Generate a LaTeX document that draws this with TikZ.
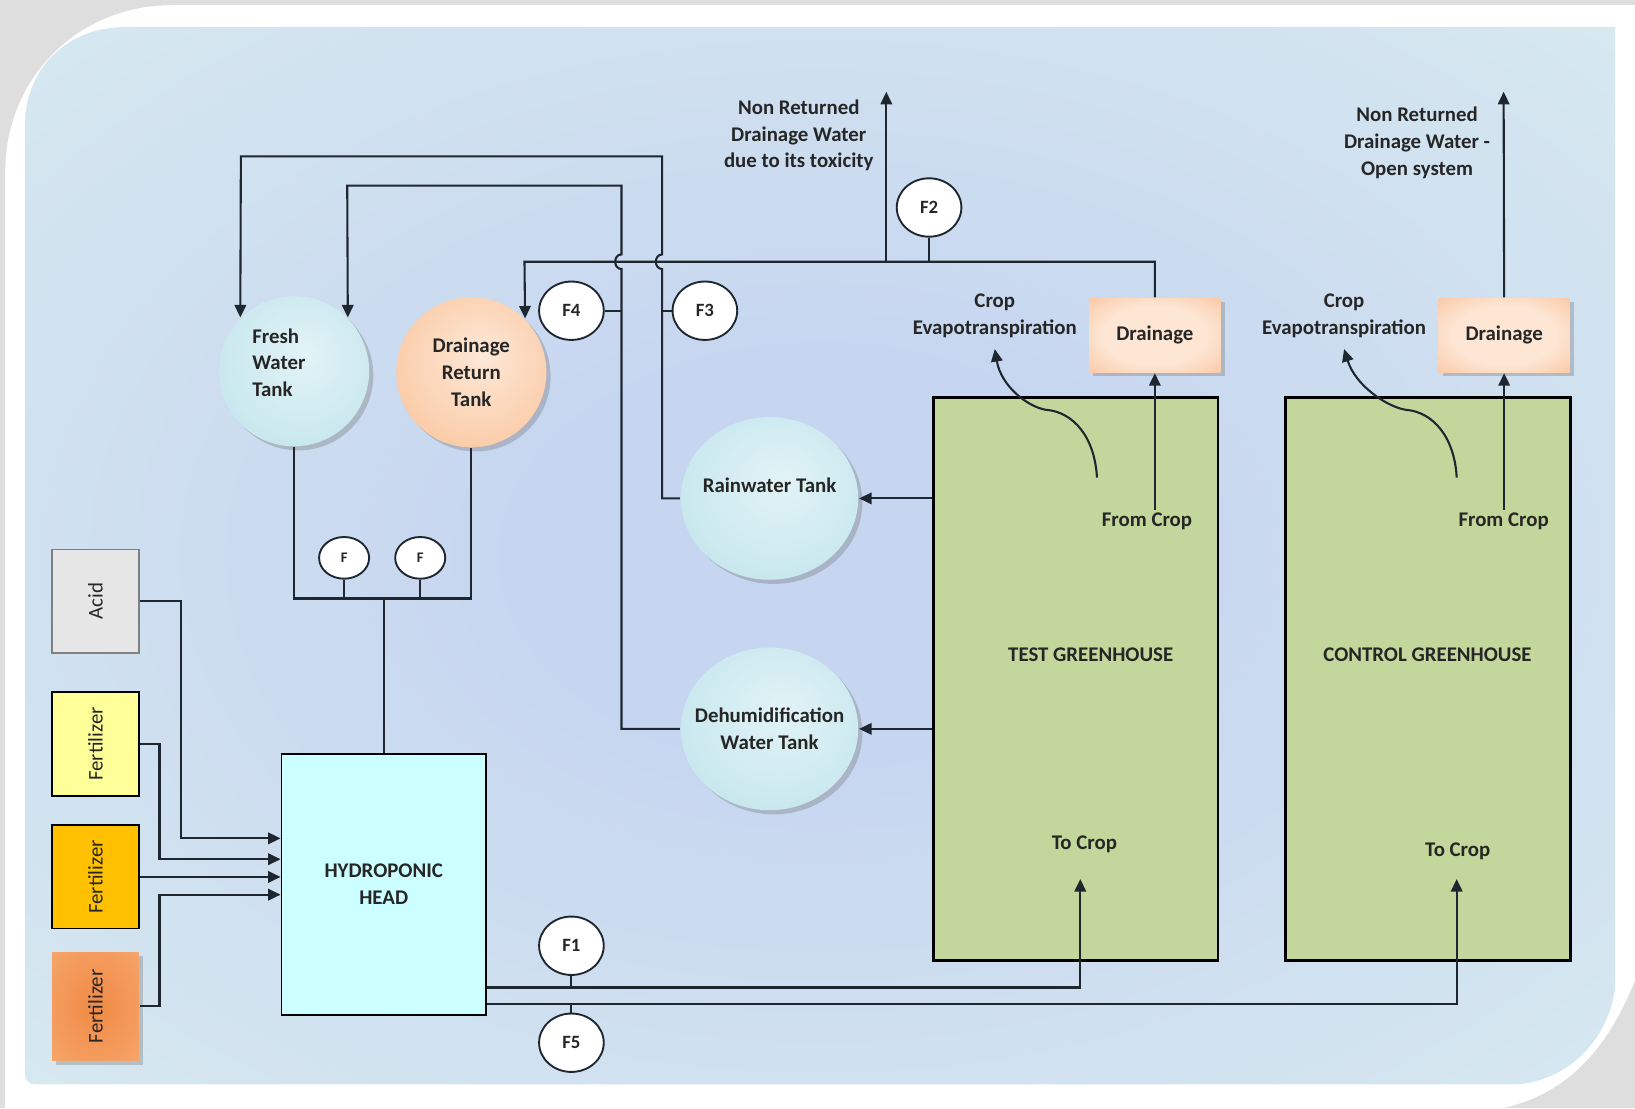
\documentclass[tikz,border=0pt]{standalone}
\usepackage{fontspec}
\setmainfont{Carlito}
\usetikzlibrary{arrows.meta,shapes.geometric,shadows}

\definecolor{bggray}{RGB}{222,222,222}
\definecolor{bgin}{RGB}{198,213,240}
\definecolor{bgout}{RGB}{216,234,240}
\definecolor{txt}{RGB}{38,38,38}
\definecolor{pipec}{RGB}{30,38,48}
\definecolor{tankin}{RGB}{226,243,247}
\definecolor{tankmid}{RGB}{200,232,238}
\definecolor{tankout}{RGB}{150,205,218}
\definecolor{orgin}{RGB}{253,232,215}
\definecolor{orgmid}{RGB}{251,208,175}
\definecolor{orgout}{RGB}{244,170,118}
\definecolor{drin}{RGB}{253,230,212}
\definecolor{drout}{RGB}{248,176,126}
\definecolor{fertin}{RGB}{240,138,68}
\definecolor{fertmid}{RGB}{245,160,100}
\definecolor{fertout}{RGB}{251,200,160}
\definecolor{acidc}{RGB}{230,230,230}
\definecolor{acidd}{RGB}{128,128,128}
\definecolor{yelc}{RGB}{255,255,153}
\definecolor{goldc}{RGB}{255,192,0}
\definecolor{headc}{RGB}{204,255,255}
\definecolor{housec}{RGB}{195,214,155}

\pgfdeclareradialshading{bgshade}{\pgfpoint{0bp}{0bp}}{color(0bp)=(bgin); color(8bp)=(bgin); color(38bp)=(bgout); color(75bp)=(bgout)}
\pgfdeclareradialshading{blueshade}{\pgfpoint{4bp}{6bp}}{color(0bp)=(tankin); color(28bp)=(tankmid); color(50bp)=(tankout)}
\pgfdeclareradialshading{orangeshade}{\pgfpoint{4bp}{6bp}}{color(0bp)=(orgin); color(25bp)=(orgmid); color(50bp)=(orgout)}
\pgfdeclareradialshading{drainshade}{\pgfpoint{0bp}{0bp}}{color(0bp)=(drin); color(20bp)=(drin); color(50bp)=(drout); color(75bp)=(drout)}
\pgfdeclareradialshading{fertshade}{\pgfpoint{0bp}{0bp}}{color(0bp)=(fertin); color(30bp)=(fertmid); color(75bp)=(fertout)}

\tikzset{every picture/.style={line width=0.9pt}}

\begin{document}
\begin{tikzpicture}[x=0.5pt,y=0.5pt,yscale=-1,xscale=1,
    lbl/.style={font=\bfseries\fontsize{10}{12.75}\selectfont, text=txt, align=center, inner sep=1pt},
    pipe/.style={draw=pipec, line width=1pt},
    arr/.style={pipe, -{Triangle[length=6pt,width=5.5pt]}},
    meter/.style={ellipse, draw=pipec, fill=white, line width=0.9pt, minimum width=31pt, minimum height=28pt, inner sep=0pt, font=\bfseries\fontsize{9}{11}\selectfont, text=txt},
    smallmeter/.style={meter, minimum width=24pt, minimum height=20pt, font=\bfseries\fontsize{7}{8}\selectfont},
    tankshadow/.style={drop shadow={shadow xshift=2pt, shadow yshift=-2pt, opacity=0.3, fill=black!60}},
    bluetank/.style={circle, lbl, shading=blueshade, tankshadow},
    orangetank/.style={circle, lbl, shading=orangeshade, tankshadow},
    feed/.style={rectangle, draw=black, line width=0.9pt, minimum width=41.5pt, minimum height=49.5pt, inner sep=0pt, font=\fontsize{10}{12}\selectfont, text=txt},
    drainbox/.style={rectangle, lbl, shading=drainshade, minimum width=63pt, minimum height=35.5pt, tankshadow},
    house/.style={rectangle, draw=black, line width=1.3pt, fill=housec, minimum width=136.5pt, minimum height=270pt, inner sep=0pt}
  ]
\useasboundingbox (0,0) rectangle (1568,1063);

% frame and backdrop
\fill[bggray] (0,0) rectangle (1568,1063);
\fill[white] (5,1063) -- (5,165) .. controls (5,75) and (75,5) .. (165,5) -- (1568,5) -- (1568,940) .. controls (1540,1010) and (1500,1050) .. (1440,1063) -- cycle;
\shade[shading=bgshade] (24,1030) -- (24,120) .. controls (24,65) and (65,26) .. (120,26) -- (1549,26) -- (1549,945) .. controls (1545,990) and (1510,1035) .. (1455,1040) -- (34,1040) .. controls (28,1040) and (24,1036) .. (24,1030) -- cycle;

% tanks
\node[bluetank, minimum size=72pt, text width=40pt, align=left] (fresh) at (282,356) {Fresh\\Water\\Tank\\[-4.5pt]\mbox{}};
\node[orangetank, minimum size=72pt] (drt) at (452,357) {Drainage\\Return\\Tank};
\node[bluetank, ellipse, minimum width=85pt, minimum height=78pt, label={[lbl]center:Rainwater Tank\\\mbox{}}] (rain) at (738,478) {};
\node[bluetank, ellipse, minimum width=85pt, minimum height=78pt, label={[lbl]center:Dehumidification\\Water Tank}] (dehum) at (738,699) {};

% flow meters
\node[meter] (m4) at (548,298) {F4};
\node[meter] (m3) at (676,298) {F3};
\node[meter] (m2) at (891,199) {F2};
\node[meter] (m1) at (548,907) {F1};
\node[meter] (m5) at (548,1000) {F5};
\node[smallmeter] (ma) at (330,535) {F};
\node[smallmeter] (mb) at (403,535) {F};

% dosing
\node[feed, fill=acidc, draw=acidd] (acid) at (91.5,576.5) {\rotatebox{90}{Acid}};
\node[feed, fill=yelc] (fya) at (91.5,713.5) {\rotatebox{90}{Fertilizer}};
\node[feed, fill=goldc] (fyb) at (91.5,841) {\rotatebox{90}{Fertilizer}};
\node[feed, draw=none, minimum height=52pt, shading=fertshade, tankshadow] (fyc) at (91.5,965) {\rotatebox{90}{Fertilizer}};
\node[rectangle, draw=black, fill=headc, minimum width=98pt, minimum height=125pt, lbl] (head) at (368,848) {HYDROPONIC\\HEAD};

% greenhouses
\node[house] (test) at (1031.5,651) {};
\node[house] (ctrl) at (1369.5,651) {};
\node[lbl] (testT) at (1046,628) {TEST GREENHOUSE};
\node[lbl] (ctrlT) at (1369,628) {CONTROL GREENHOUSE};
\node[lbl] (fromA) at (1100,500) {From Crop};
\node[lbl] (fromB) at (1442,500) {From Crop};
\node[lbl] (toA) at (1040,810) {To Crop};
\node[lbl] (toB) at (1398,816) {To Crop};
\node[drainbox] (drA) at (1107.5,321.5) {Drainage};
\node[drainbox] (drB) at (1442.5,321.5) {Drainage};
\node[lbl, inner ysep=5pt] (evA) at (954,303) {Crop\\Evapotranspiration};
\node[lbl, inner ysep=5pt] (evB) at (1289,303) {Crop\\Evapotranspiration};
\node[lbl] (nrA) at (766,130) {Non Returned\\Drainage Water\\due to its toxicity};
\node[lbl] (nrB) at (1359,137) {Non Returned\\Drainage Water -\\Open system};

\coordinate (busA) at (850,251);
\coordinate (outA) at (850,88);
\coordinate (outB) at (1442,88);
\coordinate (inA) at (1036,843);
\coordinate (inB) at (1397,843);

% drainage return and losses
\draw[arr] (drA.north) |- (503,251) -- (drt.north east);
\draw[arr] (busA) -- (outA);
\draw[pipe] (m2.south) -- (m2.south |- busA);
\draw[arr] (drB.north) -- (outB);
\draw[arr] (fromA.north -| drA.south) -- (drA.south);
\draw[arr] (fromB.north -| drB.south) -- (drB.south);
\draw[arr] (1052,458) .. controls (1050,420) and (1030,395) .. (1003,393) .. controls (985,390) and (960,370) .. (evA.south);
\draw[arr] (1397,458) .. controls (1395,420) and (1375,395) .. (1348,393) .. controls (1330,390) and (1300,370) .. (evB.south);

% collected water back to fresh tank
\draw[arr] (test.west |- rain.east) -- (rain.east);
\draw[arr] (test.west |- dehum.east) -- (dehum.east);
\draw[arr] (rain.west) -- (635,478) -- (635,258) .. controls (627,258) and (627,244) .. (635,244) -- (635,150) -- (231,150) -- (fresh.north west);
\draw[arr] (dehum.west) -- (596,699) -- (596,258) .. controls (588,258) and (588,244) .. (596,244) -- (596,178) -- (333,178) -- (fresh.north east);
\draw[pipe] (m4.east) -- (596,298);
\draw[pipe] (m3.west) -- (635,298);

% tanks to head
\draw[pipe] (fresh.south) -- (282,574) -- (452,574) -- (drt.south);
\draw[pipe] (ma.south) -- (330,574);
\draw[pipe] (mb.south) -- (403,574);
\draw[pipe] (head.north) -- (368,574);

% dosing lines
\draw[arr] (acid.east) -- (174,576.5) |- (head.west |- 0,804);
\draw[arr] (fya.east) -- (153,713.5) |- (head.west |- 0,824);
\draw[arr] (fyb.east) -- (head.west |- fyb.east);
\draw[arr] (fyc.east) -- (153,965) |- (head.west |- 0,858);

% irrigation
\draw[arr] (head.east |- 0,947) -- (1036,947) -- (inA);
\draw[arr] (head.east |- 0,963) -- (1397,963) -- (inB);
\draw[pipe] (m1.south) -- (548,947);
\draw[pipe] (m5.north) -- (548,963);
\end{tikzpicture}
\end{document}
